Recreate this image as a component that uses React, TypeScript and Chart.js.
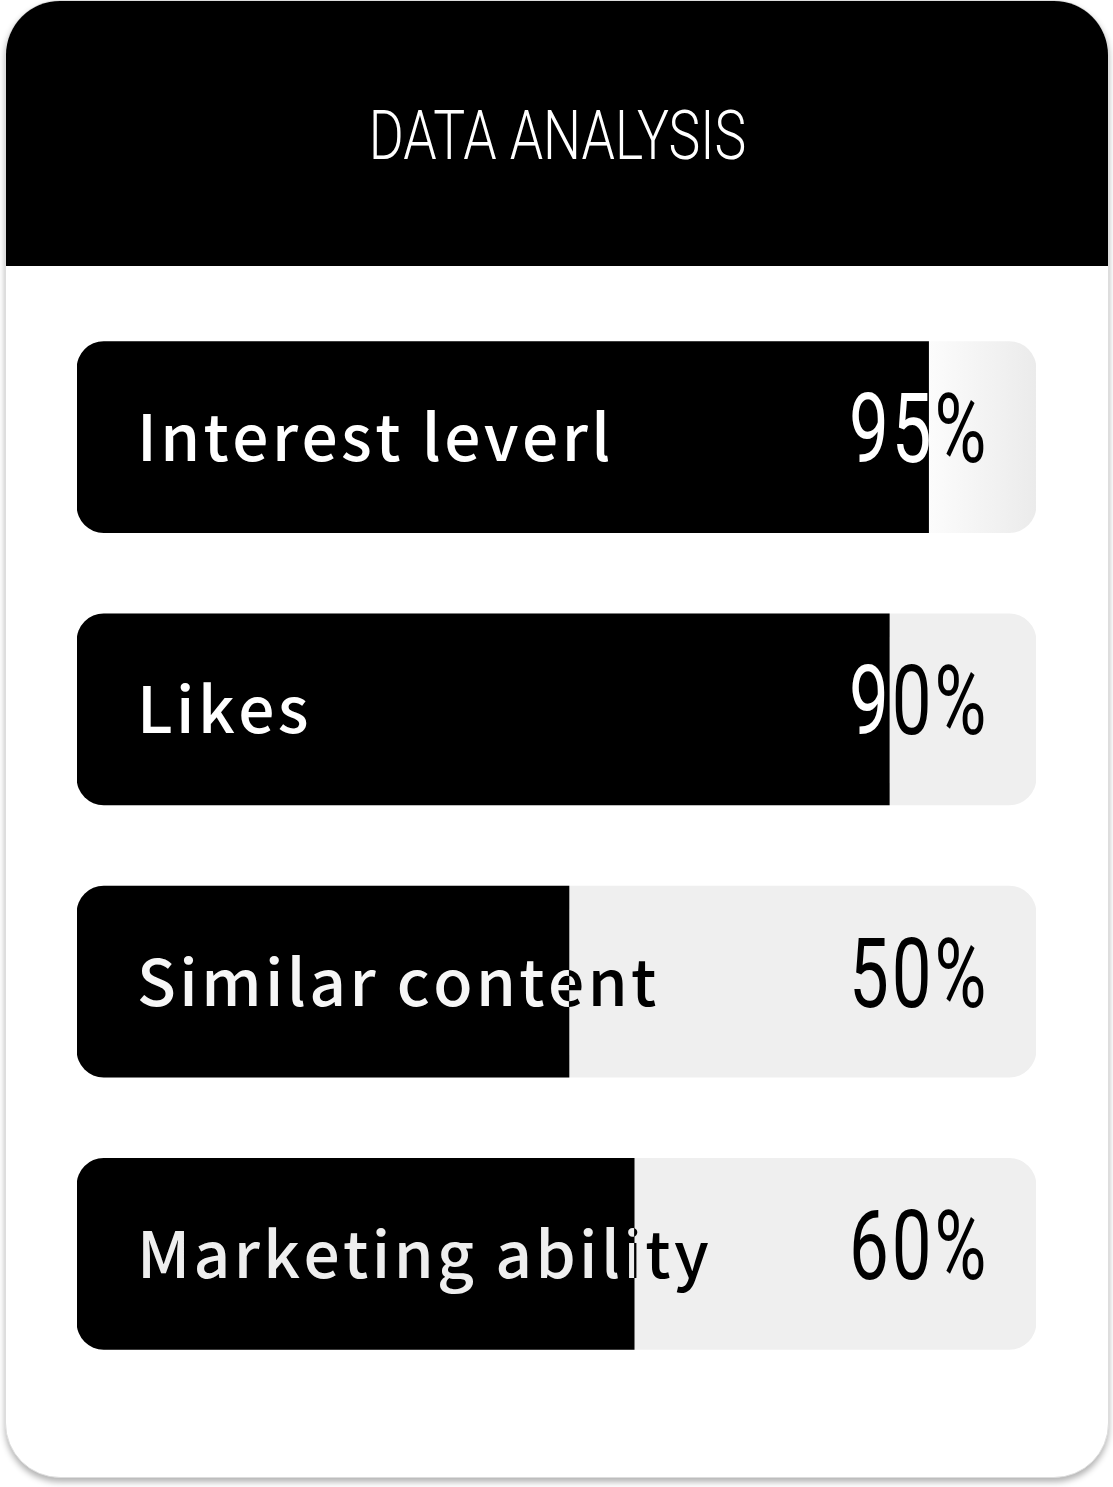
import React, { useEffect, useRef } from "react";
import { Chart, registerables } from "chart.js";

Chart.register(...registerables);

const titleText = "DATA ANALYSIS";
const categories = ["Interest leverl", "Likes", "Similar content", "Marketing ability"];
const fillValues = [88.8, 84.7, 51.3, 58.1];
const trackValues = [100, 100, 100, 100];
const percentLabels = ["95%", "90%", "50%", "60%"];

const TRACK = "#efefef";
const LIGHT_TEXT = ["#ffffff", "#ffffff", "#f6f6f6", "#eeeeee"];

function drawSpaced(ctx: CanvasRenderingContext2D, text: string, x: number, y: number, spacing: number) {
  let cx = x;
  for (const ch of text) {
    ctx.fillText(ch, cx, y);
    cx += ctx.measureText(ch).width + spacing;
  }
}

const overlayPlugin = {
  id: "overlayText",
  afterDatasetsDraw(chart: any) {
    const ctx = chart.ctx as CanvasRenderingContext2D;
    const area = chart.chartArea;
    const meta = chart.getDatasetMeta(0);

    // Title in header
    ctx.save();
    ctx.fillStyle = "#ffffff";
    ctx.font = "300 69px Roboto";
    ctx.textBaseline = "alphabetic";
    const tw = ctx.measureText(titleText).width;
    const sx = 0.775;
    ctx.translate(chart.width / 2 + 1, 159);
    ctx.scale(sx, 1);
    ctx.fillText(titleText, -tw / 2, 0);
    ctx.restore();

    meta.data.forEach((bar: any, i: number) => {
      const barEnd = bar.x;
      const cy = bar.y;
      const half = bar.height / 2;
      const baseY = cy + 24;
      const lx = area.left + 60;

      // category label: light inside the filled bar, dark over the track
      ctx.save();
      ctx.font = "500 64px 'Noto Sans CJK SC'";
      ctx.textBaseline = "alphabetic";
      const spacing = 3.4;
      ctx.save();
      ctx.beginPath();
      ctx.rect(0, cy - half, barEnd, half * 2);
      ctx.clip();
      ctx.fillStyle = LIGHT_TEXT[i];
      drawSpaced(ctx, categories[i], lx, baseY, spacing);
      ctx.restore();
      ctx.save();
      ctx.beginPath();
      ctx.rect(barEnd, cy - half, chart.width - barEnd, half * 2);
      ctx.clip();
      ctx.fillStyle = "#000000";
      drawSpaced(ctx, categories[i], lx, baseY, spacing);
      ctx.restore();
      ctx.restore();

      // percentage label, each figure coloured by where it sits
      ctx.save();
      ctx.font = "400 97px Roboto";
      ctx.textBaseline = "alphabetic";
      const psx = 0.73;
      let px = area.right - 187;
      for (const ch of percentLabels[i]) {
        const m = ctx.measureText(ch);
        const w = m.width * psx;
        const right = px + m.actualBoundingBoxRight * psx;
        ctx.fillStyle = right <= barEnd + 2 ? "#ffffff" : "#000000";
        ctx.save();
        ctx.translate(px, baseY + 1);
        ctx.scale(psx, 1);
        ctx.fillText(ch, 0, 0);
        ctx.restore();
        px += w + 3;
      }
      ctx.restore();
    });
  },
};

export default function App() {
  const canvasRef = useRef<HTMLCanvasElement | null>(null);

  useEffect(() => {
    document.body.style.margin = "0";
    const canvas = canvasRef.current;
    if (!canvas) return;
    const chart = new Chart(canvas, {
      type: "bar",
      data: {
        labels: categories,
        datasets: [
          {
            label: "fill",
            data: fillValues,
            backgroundColor: "#000000",
            borderRadius: { topLeft: 27, bottomLeft: 27, topRight: 0, bottomRight: 0 },
            borderSkipped: false,
            barThickness: 191,
            grouped: false,
            order: 0,
          },
          {
            label: "track",
            data: trackValues,
            backgroundColor: (c: any) => {
              if (c.type !== "data") return TRACK;
              if (c.dataIndex === 0) {
                const ch = c.chart;
                const xs = ch.scales && ch.scales.x;
                if (!xs || !ch.chartArea) return TRACK;
                const x0 = xs.getPixelForValue(fillValues[0]);
                const x1 = xs.getPixelForValue(trackValues[0]);
                const g = ch.ctx.createLinearGradient(x0, 0, x1, 0);
                g.addColorStop(0, "#fcfcfc");
                g.addColorStop(1, "#ebebeb");
                return g;
              }
              return TRACK;
            },
            borderRadius: 27,
            borderSkipped: false,
            barThickness: 191,
            grouped: false,
            order: 1,
          },
        ],
      },
      options: {
        indexAxis: "y",
        responsive: false,
        maintainAspectRatio: false,
        animation: false,
        layout: { padding: { left: 77, right: 77, top: 301, bottom: 97 } },
        scales: {
          x: { display: false, min: 0, max: 100 },
          y: { display: false },
        },
        plugins: {
          legend: { display: false },
          tooltip: { enabled: false },
          title: { display: false },
        },
        events: [],
      } as any,
      plugins: [overlayPlugin],
    });
    return () => chart.destroy();
  }, []);

  return (
    <div style={{ position: "relative", width: 1113, height: 1487, overflow: "hidden", background: "#ffffff" }}>
      <div
        style={{
          position: "absolute",
          left: 5,
          top: 0,
          width: 1104,
          height: 1478,
          boxSizing: "border-box",
          borderRadius: 55,
          background: "#ffffff",
          border: "1px solid #dddddd",
          boxShadow: "0 4px 6px rgba(0,0,0,0.3)",
          overflow: "hidden",
        }}
      >
        <div style={{ position: "absolute", left: 0, top: 0, right: 0, height: 265, background: "#000000" }} />
      </div>
      <canvas
        ref={canvasRef}
        width={1113}
        height={1487}
        style={{ position: "absolute", left: 0, top: 0, width: 1113, height: 1487 }}
      />
    </div>
  );
}
